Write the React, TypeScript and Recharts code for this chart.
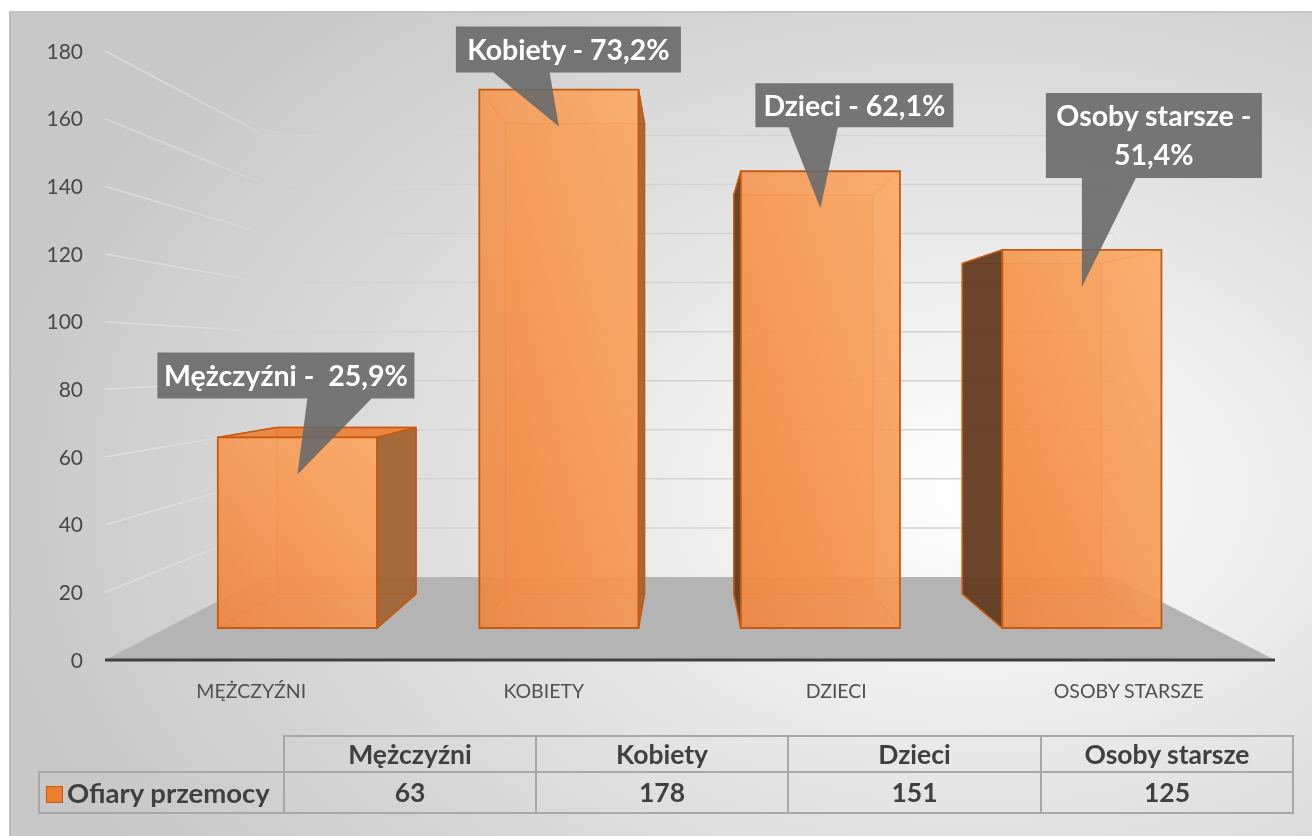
import React from "react";
import { BarChart, Bar, XAxis, YAxis, CartesianGrid, LabelList } from "recharts";

// dane
const CATEGORIES = ["Mężczyźni", "Kobiety", "Dzieci", "Osoby starsze"];
const VICTIMS = [63, 178, 151, 125];
const SHARE_LABELS = ["Mężczyźni -  25,9%", "Kobiety - 73,2%", "Dzieci - 62,1%", "Osoby starsze -\n51,4%"];
const Y_TICKS = [0, 20, 40, 60, 80, 100, 120, 140, 160, 180];
const SERIES_NAME = "Ofiary przemocy";

const data = CATEGORIES.map((name, i) => ({ name, value: VICTIMS[i] }));

// układ
const FONT = "Lato, 'Open Sans', sans-serif";
const PLOT = { left: 105, right: 1275, top: 51, bottom: 660 };
const VP = { x: 686, y: 358 }; // punkt zbiegu perspektywy
const DEPTH = { barFront: 0.894, barBack: 0.781, wall: 0.725 };
const TIP_DROP = 37;

// pozycje dymków względem grotu
const CALLOUT_BOX = [
  { dx: -140, dy: -122, w: 257, h: 46 },
  { dx: -103, dy: -100, w: 225, h: 46 },
  { dx: -65, dy: -125, w: 198, h: 44 },
  { dx: -36, dy: -194, w: 216, h: 85 },
];

const proj = (x: number, y: number, s: number): [number, number] => [
  VP.x + (x - VP.x) * s,
  VP.y + (y - VP.y) * s,
];
const pts = (...p: [number, number][]) => p.map((q) => q.join(",")).join(" ");

// linie ścian + podłoga
const WallLine = (props: any) => {
  const y = props.y1;
  const key = props.key ?? `wall-${props.index}`;
  const back = proj(PLOT.left, y, DEPTH.wall);
  const backR = proj(PLOT.right, y, DEPTH.wall);
  if (Math.abs(y - PLOT.bottom) < 0.5) {
    return (
      <g key={key}>
        <defs>
          <linearGradient id="sideWall" gradientUnits="userSpaceOnUse" x1={PLOT.left} y1="0" x2={back[0]} y2="0">
            <stop offset="0" stopColor="#eeeeee" stopOpacity={0.5} />
            <stop offset="1" stopColor="#d2d2d2" stopOpacity={1} />
          </linearGradient>
        </defs>
        <polygon
          points={pts([PLOT.left, PLOT.bottom], [PLOT.right, PLOT.bottom], backR, back)}
          fill="#b4b4b4"
        />
      </g>
    );
  }
  return (
    <g key={key}>
      <line x1={PLOT.left} y1={y} x2={back[0]} y2={back[1]} stroke="url(#sideWall)" strokeWidth={1.5} />
      <line x1={back[0]} y1={back[1]} x2={backR[0]} y2={backR[1]} stroke="#d3d3d3" strokeWidth={1.5} />
    </g>
  );
};

// słupek 3D
const Box3D = (props: any) => {
  const { x, y, width, height, index } = props;
  const x0 = x, x1 = x + width, y0 = y, y1 = y + height;
  const f = (px: number, py: number) => proj(px, py, DEPTH.barFront);
  const b = (px: number, py: number) => proj(px, py, DEPTH.barBack);
  const F = { tl: f(x0, y0), tr: f(x1, y0), br: f(x1, y1), bl: f(x0, y1) };
  const B = { tl: b(x0, y0), tr: b(x1, y0), br: b(x1, y1), bl: b(x0, y1) };
  const showRight = F.tr[0] < VP.x;
  const showLeft = F.tl[0] > VP.x;
  const showTop = F.tl[1] > VP.y;
  const gid = `front-${index}`;
  const edge = "#c55a11";
  const inner = "#d96c22";
  const ln = (a: [number, number], c: [number, number], s: string, w: number, k: string) => (
    <line key={k} x1={a[0]} y1={a[1]} x2={c[0]} y2={c[1]} stroke={s} strokeWidth={w} />
  );
  return (
    <g>
      <defs>
        <linearGradient id={gid} x1="0" y1="1" x2="1" y2="0">
          <stop offset="0" stopColor="#ef8640" />
          <stop offset="1" stopColor="#fbab68" />
        </linearGradient>
      </defs>
      <polygon points={pts(B.tl, B.tr, B.br, B.bl)} fill="#ed7d31" fillOpacity={0.35} />
      {ln(B.tl, B.tr, inner, 1.5, "b1")}
      {ln(B.tr, B.br, inner, 1.5, "b2")}
      {ln(B.br, B.bl, inner, 1.5, "b3")}
      {ln(B.bl, B.tl, inner, 1.5, "b4")}
      {ln(F.tl, B.tl, inner, 1.5, "c1")}
      {ln(F.tr, B.tr, inner, 1.5, "c2")}
      {ln(F.br, B.br, inner, 1.5, "c3")}
      {ln(F.bl, B.bl, inner, 1.5, "c4")}
      {showTop && (
        <polygon points={pts(F.tl, F.tr, B.tr, B.tl)} fill="#ed7d31" fillOpacity={0.85} stroke={edge} strokeWidth={1.5} />
      )}
      {showRight && (
        <polygon points={pts(F.tr, B.tr, B.br, F.br)} fill="#a0602f" fillOpacity={0.9} stroke={edge} strokeWidth={1.5} />
      )}
      {showLeft && (
        <polygon points={pts(F.tl, B.tl, B.bl, F.bl)} fill="#5e3a1f" fillOpacity={0.92} stroke={edge} strokeWidth={1.5} />
      )}
      <polygon
        points={pts(F.tl, F.tr, F.br, F.bl)}
        fill={`url(#${gid})`}
        fillOpacity={0.92}
        stroke={edge}
        strokeWidth={1.8}
      />
    </g>
  );
};

// dymek z etykietą
const Callout = (props: any) => {
  const vb = props.viewBox || props;
  const { x, y, width } = vb;
  const idx = typeof props.index === "number" ? props.index : VICTIMS.indexOf(Number(props.value));
  const box = CALLOUT_BOX[idx];
  if (!box) return null;
  const top = proj(x + width / 2, y, DEPTH.barFront);
  const tip: [number, number] = [top[0], top[1] + TIP_DROP];
  const l = tip[0] + box.dx;
  const t = tip[1] + box.dy;
  const r = l + box.w;
  const bt = t + box.h;
  const toRight = tip[0] > (l + r) / 2;
  const b0 = l + (box.w * (toRight ? 7 : 2)) / 12;
  const b1 = l + (box.w * (toRight ? 10 : 5)) / 12;
  const d = `M${l},${t} H${r} V${bt} H${b1} L${tip[0]},${tip[1]} L${b0},${bt} H${l} Z`;
  const lines = SHARE_LABELS[idx].split("\n");
  const lh = 39;
  const cy = t + box.h / 2;
  return (
    <g>
      <path d={d} fill="#696969" fillOpacity={0.9} />
      {lines.map((s, i) => (
        <text
          key={i}
          x={l + box.w / 2}
          y={cy + (i - (lines.length - 1) / 2) * lh}
          dy="0.36em"
          textAnchor="middle"
          fill="#ffffff"
          fontFamily={FONT}
          fontWeight={700}
          fontSize={28.5}
          style={{ whiteSpace: "pre" }}
        >
          {s}
        </text>
      ))}
    </g>
  );
};

const ValueTick = (props: any) => (
  <text x={83} y={props.y} dy="0.36em" textAnchor="end" fill="#484848" fontFamily={FONT} fontSize={21}>
    {props.payload.value}
  </text>
);

const CategoryTick = (props: any) => (
  <text x={props.x} y={698} textAnchor="middle" fill="#505050" fontFamily={FONT} fontSize={19.5}>
    {String(props.payload.value).toUpperCase()}
  </text>
);

const COL_W = [245, 252, 252, 253, 252];
const cellBorder = "2px solid #a8a8a8";

export default function App() {
  return (
    <div style={{ position: "fixed", left: 0, top: 0, width: 1312, height: 836, overflow: "hidden", fontFamily: FONT }}>
      <div
        style={{
          position: "absolute",
          left: 9,
          top: 11,
          width: 1320,
          height: 840,
          borderLeft: "2px solid #bdbdbd",
          borderTop: "2px solid #c4c4c4",
          background:
            "radial-gradient(ellipse 75% 80% at 73% 57%, #ffffff 0%, #f3f3f3 22%, #e2e2e2 50%, #d2d2d2 80%, #c8c8c8 100%)",
        }}
      />
      <div style={{ position: "absolute", left: 0, top: 0 }}>
        <BarChart
          width={1312}
          height={720}
          data={data}
          margin={{ top: 51, right: 37, bottom: 20, left: 45 }}
          barCategoryGap="19.6%"
        >
          <CartesianGrid vertical={false} horizontal={WallLine} />
          <XAxis
            dataKey="name"
            height={40}
            interval={0}
            tickLine={false}
            axisLine={{ stroke: "#404040", strokeWidth: 3 }}
            tick={CategoryTick}
          />
          <YAxis
            domain={[0, 180]}
            ticks={Y_TICKS}
            interval={0}
            width={60}
            axisLine={false}
            tickLine={false}
            tick={ValueTick}
          />
          <Bar dataKey="value" name={SERIES_NAME} shape={Box3D} isAnimationActive={false}>
            <LabelList dataKey="value" content={Callout} />
          </Bar>
        </BarChart>
      </div>
      <table
        style={{
          position: "absolute",
          left: 38,
          top: 735,
          width: 1254,
          tableLayout: "fixed",
          borderCollapse: "collapse",
          color: "#404040",
          fontWeight: 700,
          fontSize: 26.5,
          fontFamily: FONT,
          lineHeight: 1,
        }}
      >
        <colgroup>
          {COL_W.map((w, i) => (
            <col key={i} style={{ width: w }} />
          ))}
        </colgroup>
        <tbody>
          <tr style={{ height: 36 }}>
            <td style={{ border: "none", padding: 0 }} />
            {CATEGORIES.map((c) => (
              <td key={c} style={{ border: cellBorder, textAlign: "center", padding: 0 }}>
                {c}
              </td>
            ))}
          </tr>
          <tr style={{ height: 41 }}>
            <td style={{ border: cellBorder, padding: "0 0 0 6px", whiteSpace: "nowrap" }}>
              <span
                style={{
                  display: "inline-block",
                  width: 15,
                  height: 15,
                  background: "#ed7d31",
                  border: "1.5px solid #c55a11",
                  marginRight: 4,
                  verticalAlign: "0px",
                }}
              />
              <span style={{ fontSize: 27.5 }}>{SERIES_NAME}</span>
            </td>
            {VICTIMS.map((v, i) => (
              <td key={i} style={{ border: cellBorder, textAlign: "center", padding: 0 }}>
                {v}
              </td>
            ))}
          </tr>
        </tbody>
      </table>
    </div>
  );
}
